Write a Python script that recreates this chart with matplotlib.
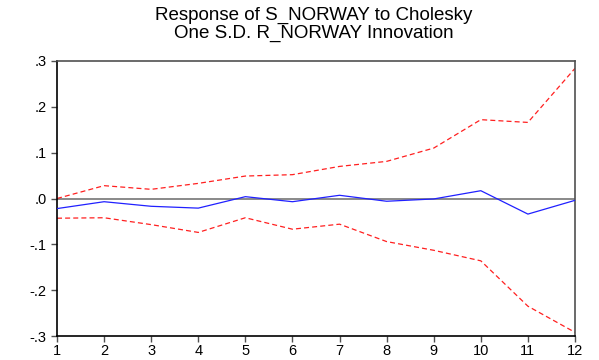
import matplotlib
matplotlib.use("Agg")
import matplotlib.pyplot as plt

periods = list(range(1, 13))
response = [-0.022, -0.007, -0.017, -0.021, 0.004, -0.007, 0.007, -0.006, -0.001, 0.017, -0.034, -0.004]
upper_band = [0.000, 0.028, 0.020, 0.033, 0.049, 0.052, 0.070, 0.081, 0.110, 0.172, 0.166, 0.284]
lower_band = [-0.043, -0.042, -0.057, -0.074, -0.042, -0.067, -0.056, -0.094, -0.113, -0.136, -0.235, -0.292]
y_ticks = [-0.3, -0.2, -0.1, 0.0, 0.1, 0.2, 0.3]
y_tick_labels = ["-.3", "-.2", "-.1", ".0", ".1", ".2", ".3"]
title_text = "Response of S_NORWAY to Cholesky\nOne S.D. R_NORWAY Innovation"

plt.rcParams["font.family"] = ["Liberation Sans", "DejaVu Sans"]

fig = plt.figure(figsize=(5.99, 3.60), dpi=100)
ax = fig.add_axes([57 / 599, 1 - 336 / 360, (575 - 57) / 599, (336 - 61) / 360])

ax.axhline(0.0, color="#808080", linewidth=1.3, zorder=1)
ax.plot(periods, upper_band, color="#ff2020", linewidth=0.9, linestyle=(0, (4, 2.5)), zorder=2)
ax.plot(periods, lower_band, color="#ff2020", linewidth=0.9, linestyle=(0, (4, 2.5)), zorder=2)
ax.plot(periods, response, color="#2020ff", linewidth=0.9, zorder=3)

ax.set_xlim(1, 12)
ax.set_ylim(-0.3, 0.3)
ax.set_xticks(periods)
ax.set_xticklabels([str(p) for p in periods])
ax.set_yticks(y_ticks)
ax.set_yticklabels(y_tick_labels)

ax.tick_params(axis="both", direction="out", length=4.5, width=1, labelsize=10.5, color="#505050")
ax.tick_params(axis="x", pad=1.5)
ax.tick_params(axis="y", pad=3)
for side in ["left", "bottom"]:
    ax.spines[side].set_color("black")
    ax.spines[side].set_linewidth(1.2)
for side in ["top", "right"]:
    ax.spines[side].set_color("#505050")
    ax.spines[side].set_linewidth(1.2)

fig.text(314 / 599, 1 - 24.5 / 360, title_text, ha="center", va="center",
         fontsize=13.5, linespacing=1.0)

fig.savefig("out.png", dpi=100)
